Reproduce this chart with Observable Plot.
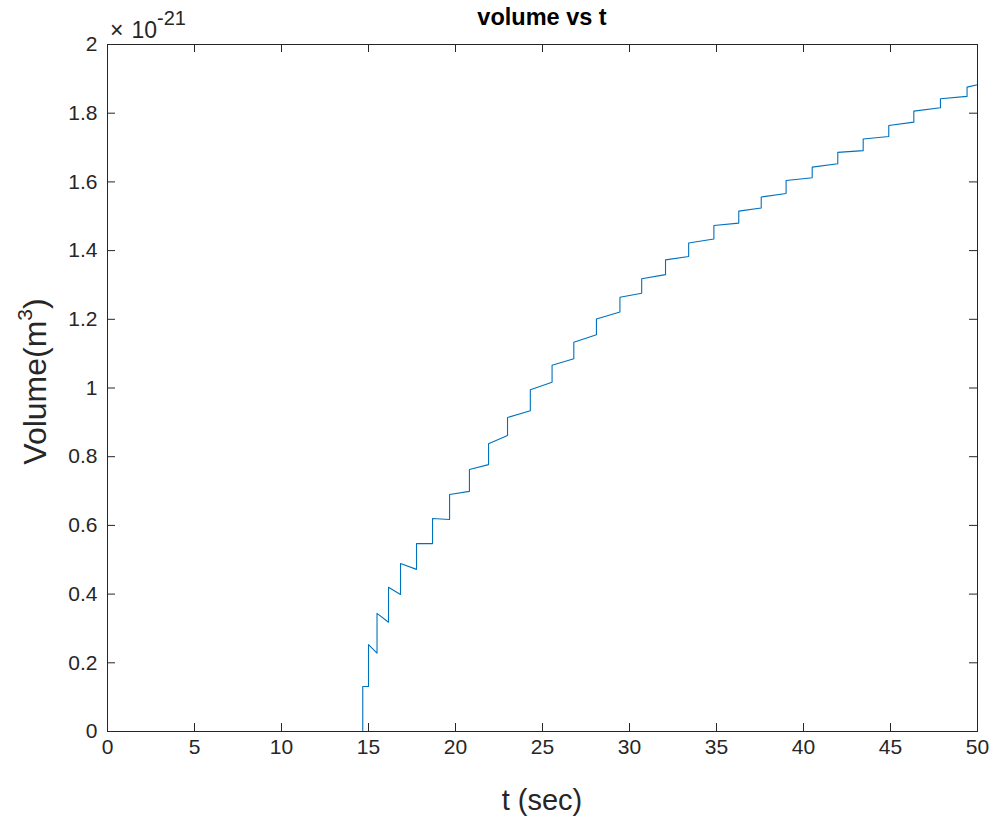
<!DOCTYPE html>
<html><head><meta charset="utf-8">
<script src="https://cdn.jsdelivr.net/npm/d3@7"></script>
<script src="https://cdn.jsdelivr.net/npm/@observablehq/plot@0.6"></script>
<style>body{margin:0;background:#fff;}</style>
</head><body><div id="chart"></div>
<script>
// ---- data ----
const stepT   = [14.67, 15.0, 15.49, 16.15, 16.84, 17.76, 18.68, 19.66, 20.8, 21.9, 22.99, 24.3, 25.55, 26.8, 28.1, 29.45, 30.7, 32.07, 33.4, 34.85, 36.28, 37.57, 39.0, 40.5, 41.97, 43.43, 44.9, 46.34, 47.87, 49.4];
const vBefore = [0, 0.131, 0.228, 0.318, 0.399, 0.472, 0.547, 0.617, 0.699, 0.777, 0.862, 0.934, 1.017, 1.085, 1.155, 1.221, 1.276, 1.33, 1.383, 1.434, 1.48, 1.524, 1.566, 1.612, 1.653, 1.691, 1.732, 1.774, 1.816, 1.849];
const vAfter  = [0.131, 0.253, 0.344, 0.42, 0.489, 0.547, 0.62, 0.69, 0.763, 0.838, 0.914, 0.995, 1.066, 1.133, 1.201, 1.264, 1.318, 1.373, 1.422, 1.473, 1.515, 1.556, 1.604, 1.643, 1.686, 1.725, 1.764, 1.806, 1.842, 1.876];
const tStart = 0, vStart = 0;
const tEnd = 50, vEnd = 1.883;
const xTicks = [0, 5, 10, 15, 20, 25, 30, 35, 40, 45, 50];
const xTickLabels = ["0", "5", "10", "15", "20", "25", "30", "35", "40", "45", "50"];
const yTicks = [0, 0.2, 0.4, 0.6, 0.8, 1, 1.2, 1.4, 1.6, 1.8, 2];
const yTickLabels = ["0", "0.2", "0.4", "0.6", "0.8", "1", "1.2", "1.4", "1.6", "1.8", "2"];
const titleText = "volume vs t";
const xLabelText = "t (sec)";
const yLabelMain = "Volume(m";
const yLabelSup = "3";
const yLabelEnd = ")";
const expTimes = "\u00d7";
const expBase = "10";
const expPower = "-21";

// ---- build the polyline table ----
const pts = [{t: tStart, v: vStart}];
stepT.forEach((t, i) => { pts.push({t, v: vBefore[i]}); pts.push({t, v: vAfter[i]}); });
pts.push({t: tEnd, v: vEnd});

const W = 997, H = 825, mL = 107, mR = 20, mT = 44, mB = 94;
const plotW = W - mL - mR, plotH = H - mT - mB;
const ink = "#262626";
const font = "'Liberation Sans', Arial, Helvetica, sans-serif";
const tickLen = 8;

const chart = Plot.plot({
  width: W, height: H,
  marginLeft: mL, marginRight: mR, marginTop: mT, marginBottom: mB,
  style: {fontFamily: font, fontSize: "21px", color: ink, background: "#fff", overflow: "visible"},
  x: {domain: [0, 50]},
  y: {domain: [0, 2]},
  marks: [
    Plot.line(pts, {x: "t", y: "v", stroke: "#0072BD", strokeWidth: 1.1}),
    Plot.frame({stroke: ink, strokeWidth: 1}),
    Plot.tickX(xTicks, {x: d => d, stroke: ink, insetTop: plotH - tickLen}),
    Plot.tickX(xTicks, {x: d => d, stroke: ink, insetBottom: plotH - tickLen}),
    Plot.tickY(yTicks, {y: d => d, stroke: ink, insetRight: plotW - tickLen}),
    Plot.tickY(yTicks, {y: d => d, stroke: ink, insetLeft: plotW - tickLen}),
    Plot.axisX(xTicks, {tickSize: 0, tickPadding: 8, label: null, fill: ink, fontSize: 21,
      tickFormat: d => xTickLabels[xTicks.indexOf(d)]}),
    Plot.axisY(yTicks, {tickSize: 0, tickPadding: 10, label: null, fill: ink, fontSize: 21,
      tickFormat: d => yTickLabels[yTicks.indexOf(d)]})
  ]
});
document.getElementById("chart").appendChild(chart);

// ---- annotations (title, axis labels, exponent) ----
const svg = d3.select(chart);
const cx = mL + plotW / 2;
svg.append("text").attr("x", cx).attr("y", 25).attr("text-anchor", "middle")
  .attr("font-family", font).attr("font-size", 23.5).attr("font-weight", "bold").attr("fill", "#000")
  .text(titleText);
svg.append("text").attr("x", cx).attr("y", 810).attr("text-anchor", "middle")
  .attr("font-family", font).attr("font-size", 29).attr("fill", ink)
  .text(xLabelText);
const yl = svg.append("text").attr("transform", `translate(46,${mT + plotH / 2 - 6}) rotate(-90)`)
  .attr("text-anchor", "middle").attr("font-family", font).attr("font-size", 32).attr("fill", ink);
yl.append("tspan").text(yLabelMain);
yl.append("tspan").attr("font-size", 21).attr("dy", -14).text(yLabelSup);
yl.append("tspan").attr("dy", 14).text(yLabelEnd);
const ex = svg.append("text").attr("x", 110).attr("y", 38).attr("text-anchor", "start")
  .attr("font-family", font).attr("font-size", 23).attr("fill", ink);
ex.append("tspan").text(expTimes);
ex.append("tspan").attr("dx", 8).text(expBase);
ex.append("tspan").attr("font-size", 20).attr("dy", -13).text(expPower);
</script>
</body></html>
